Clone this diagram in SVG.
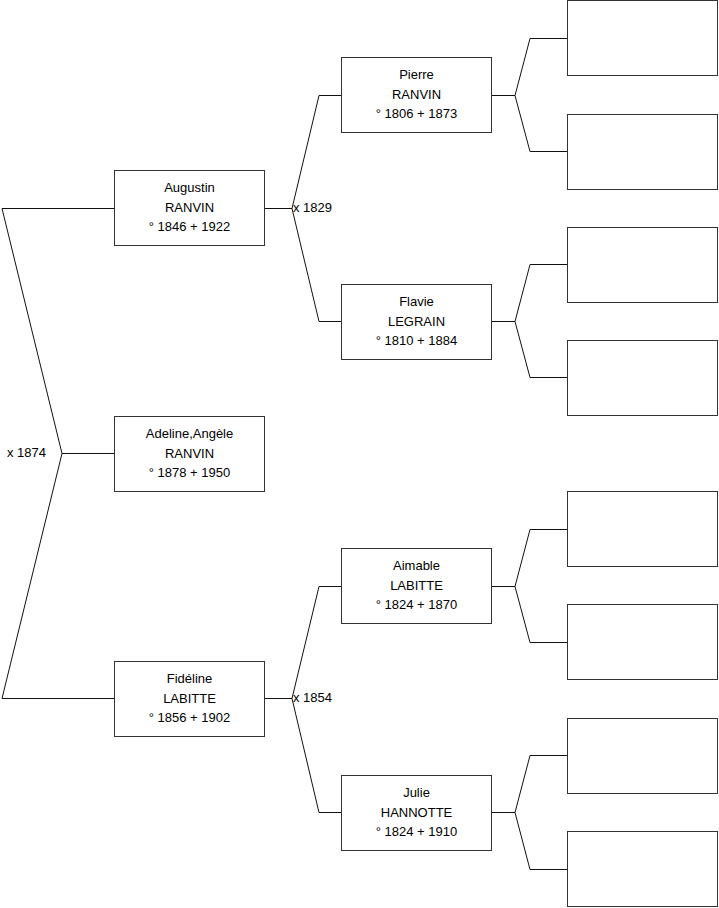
<svg xmlns="http://www.w3.org/2000/svg" width="719" height="908" viewBox="0 0 719 908">
<style>
rect{fill:#fff;stroke:#333;stroke-width:1}
path{fill:none;stroke:#111;stroke-width:1}
text{font-family:"Liberation Sans",Arial,sans-serif;font-size:13px;fill:#000}
.c{text-anchor:middle}
</style>
<rect x="0" y="0" width="719" height="908" style="fill:#fff;stroke:none"/>
<g id="connectors">
<path d="M2,208.5 H114 M2,208.5 L62,453.5 L2,698.5 H114 M62,453.5 H114"/>
<path d="M265,208.5 H292 L319,95.5 H341 M292,208.5 L319,321.5 H341"/>
<path d="M265,698.5 H292 L319,586.5 H341 M292,698.5 L319,812.5 H341"/>
<path d="M492,95.5 H515 L530,38.5 H567 M515,95.5 L530,151.5 H567"/>
<path d="M492,321.5 H515 L530,264.5 H567 M515,321.5 L530,377.5 H567"/>
<path d="M492,586.5 H515 L530,529.5 H567 M515,586.5 L530,642.5 H567"/>
<path d="M492,812.5 H515 L530,755.5 H567 M515,812.5 L530,869.5 H567"/>
<text x="7" y="457">x 1874</text>
<text x="293" y="212">x 1829</text>
<text x="293" y="702">x 1854</text>
</g>
<g id="augustin"><rect x="114.5" y="170.5" width="150" height="75"/><text class="c" x="189.5" y="191.5">Augustin</text><text class="c" x="189.5" y="211.5">RANVIN</text><text class="c" x="189.5" y="231">° 1846 + 1922</text></g>
<g id="adeline"><rect x="114.5" y="416.5" width="150" height="75"/><text class="c" x="189.5" y="437.5">Adeline,Angèle</text><text class="c" x="189.5" y="457.5">RANVIN</text><text class="c" x="189.5" y="477">° 1878 + 1950</text></g>
<g id="fideline"><rect x="114.5" y="661.5" width="150" height="75"/><text class="c" x="189.5" y="682.5">Fidéline</text><text class="c" x="189.5" y="702.5">LABITTE</text><text class="c" x="189.5" y="722">° 1856 + 1902</text></g>
<g id="pierre"><rect x="341.5" y="57.5" width="150" height="75"/><text class="c" x="416.5" y="78.5">Pierre</text><text class="c" x="416.5" y="98.5">RANVIN</text><text class="c" x="416.5" y="118">° 1806 + 1873</text></g>
<g id="flavie"><rect x="341.5" y="284.5" width="150" height="75"/><text class="c" x="416.5" y="305.5">Flavie</text><text class="c" x="416.5" y="325.5">LEGRAIN</text><text class="c" x="416.5" y="345">° 1810 + 1884</text></g>
<g id="aimable"><rect x="341.5" y="548.5" width="150" height="75"/><text class="c" x="416.5" y="569.5">Aimable</text><text class="c" x="416.5" y="589.5">LABITTE</text><text class="c" x="416.5" y="609">° 1824 + 1870</text></g>
<g id="julie"><rect x="341.5" y="775.5" width="150" height="75"/><text class="c" x="416.5" y="796.5">Julie</text><text class="c" x="416.5" y="816.5">HANNOTTE</text><text class="c" x="416.5" y="836">° 1824 + 1910</text></g>
<g id="p1"><rect x="567.5" y="0.5" width="150" height="75"/></g>
<g id="p2"><rect x="567.5" y="114.5" width="150" height="75"/></g>
<g id="p3"><rect x="567.5" y="227.5" width="150" height="75"/></g>
<g id="p4"><rect x="567.5" y="340.5" width="150" height="75"/></g>
<g id="p5"><rect x="567.5" y="491.5" width="150" height="75"/></g>
<g id="p6"><rect x="567.5" y="604.5" width="150" height="75"/></g>
<g id="p7"><rect x="567.5" y="718.5" width="150" height="75"/></g>
<g id="p8"><rect x="567.5" y="831.5" width="150" height="75"/></g>
</svg>
